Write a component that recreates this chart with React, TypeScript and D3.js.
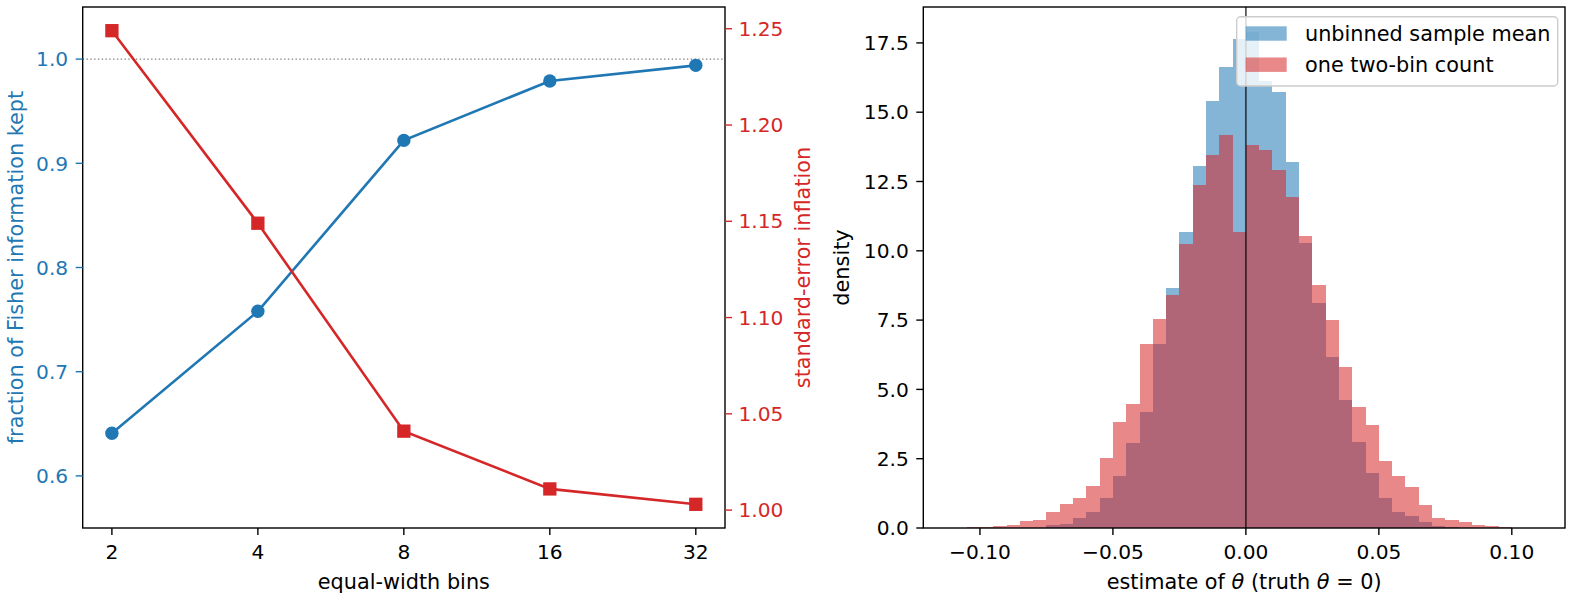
import * as d3 from "d3";
import React from "react";

// left panel: information kept vs number of equal-width bins
const binCounts = [2, 4, 8, 16, 32];
const fisherKept = [0.641, 0.758, 0.922, 0.979, 0.994];
const seInflation = [1.249, 1.149, 1.041, 1.011, 1.003];
const fisherTicks = [0.6, 0.7, 0.8, 0.9, 1.0];
const seTicks = [1.0, 1.05, 1.1, 1.15, 1.2, 1.25];

// right panel: histogram densities (bin left edges, width 0.005)
const binLeft = [
  -0.105, -0.1, -0.095, -0.09, -0.085, -0.08, -0.075, -0.07, -0.065, -0.06,
  -0.055, -0.05, -0.045, -0.04, -0.035, -0.03, -0.025, -0.02, -0.015, -0.01,
  -0.005, 0.0, 0.005, 0.01, 0.015, 0.02, 0.025, 0.03, 0.035, 0.04,
  0.045, 0.05, 0.055, 0.06, 0.065, 0.07, 0.075, 0.08, 0.085, 0.09, 0.095,
];
const binWidth = 0.005;
const unbinnedDensity = [
  0, 0, 0, 0, 0, 0, 0.1, 0.13, 0.35, 0.58,
  1.1, 1.86, 3.05, 4.17, 6.65, 8.67, 10.68, 13.06, 15.4, 16.63,
  17.63, 17.9, 16.12, 15.72, 13.2, 10.29, 8.13, 6.18, 4.63, 3.09,
  2.0, 1.1, 0.57, 0.42, 0.2, 0.06, 0.03, 0, 0, 0, 0,
];
const twoBinDensity = [
  0.02, 0.03, 0.06, 0.1, 0.25, 0.29, 0.58, 0.85, 1.07, 1.5,
  2.51, 3.81, 4.49, 6.65, 7.55, 8.42, 10.25, 12.38, 13.46, 14.18,
  10.67, 13.82, 13.64, 12.92, 11.94, 10.54, 8.78, 7.52, 5.82, 4.35,
  3.73, 2.4, 1.86, 1.47, 0.82, 0.35, 0.28, 0.2, 0.1, 0.06, 0.02,
];
const thetaTicks = [-0.1, -0.05, 0, 0.05, 0.1];
const densityTicks = [0, 2.5, 5, 7.5, 10, 12.5, 15, 17.5];
const legendLabels = ["unbinned sample mean", "one two-bin count"];

const BLUE = "#1f77b4";
const RED = "#d62728";
const FONT = "DejaVu Sans, sans-serif";
const TICK_FS = 20.2;
const LABEL_FS = 20.8;
const TICK_LEN = 7;

const minus = (s: string) => s.replace("-", "\u2212");

const App: React.FC = () => {
  const left = { x0: 82.7, x1: 725, y0: 7, y1: 528 };
  const right = { x0: 923.3, x1: 1565, y0: 7, y1: 528 };

  // left panel scales
  const lx = d3.scaleLog().base(2).domain([2 ** 0.8, 2 ** 5.2]).range([left.x0, left.x1]);
  const ly = d3.scaleLinear().domain([0.55, 1.05]).range([left.y1, left.y0]);
  const [seMin, seMax] = d3.extent(seInflation) as [number, number];
  const sePad = (seMax - seMin) * 0.05;
  const ry = d3.scaleLinear().domain([seMin - sePad, seMax + sePad]).range([left.y1, left.y0]);

  const blueLine = d3.line<number>().x((_, i) => lx(binCounts[i])).y(d => ly(d));
  const redLine = d3.line<number>().x((_, i) => lx(binCounts[i])).y(d => ry(d));

  // right panel scales
  const hx = d3.scaleLinear().domain([-0.1213, 0.12]).range([right.x0, right.x1]);
  const hy = d3.scaleLinear()
    .domain([0, (d3.max([...unbinnedDensity, ...twoBinDensity]) as number) * 1.05])
    .range([right.y1, right.y0]);

  const bars = (vals: number[], color: string) =>
    vals.map((v, i) =>
      v > 0 ? (
        <rect
          key={i}
          x={hx(binLeft[i])}
          width={hx(binLeft[i] + binWidth) - hx(binLeft[i])}
          y={hy(v)}
          height={hy(0) - hy(v)}
          fill={color}
          fillOpacity={0.55}
          shapeRendering="crispEdges"
        />
      ) : null
    );

  const sq = 13.3;

  return (
    <svg
      width={1575}
      height={600}
      style={{ position: "absolute", left: 0, top: 0, background: "white" }}
      fontFamily={FONT}
    >
      {/* ---------- left panel ---------- */}
      <line x1={left.x0} x2={left.x1} y1={ly(1.0)} y2={ly(1.0)}
        stroke="#808080" strokeWidth={1.4} strokeDasharray="1.4,2.4" />
      <path d={blueLine(fisherKept) || ""} fill="none" stroke={BLUE} strokeWidth={2.6} />
      {fisherKept.map((v, i) => (
        <circle key={i} cx={lx(binCounts[i])} cy={ly(v)} r={6.7} fill={BLUE} />
      ))}
      <path d={redLine(seInflation) || ""} fill="none" stroke={RED} strokeWidth={2.6} />
      {seInflation.map((v, i) => (
        <rect key={i} x={lx(binCounts[i]) - sq / 2} y={ry(v) - sq / 2} width={sq} height={sq} fill={RED} />
      ))}
      <rect x={left.x0} y={left.y0} width={left.x1 - left.x0} height={left.y1 - left.y0}
        fill="none" stroke="black" strokeWidth={1.4} />

      {/* x ticks */}
      {binCounts.map(b => (
        <g key={b} transform={`translate(${lx(b)},${left.y1})`}>
          <line y2={TICK_LEN} stroke="black" strokeWidth={1.4} />
          <text y={31} textAnchor="middle" fontSize={TICK_FS}>{b}</text>
        </g>
      ))}
      <text x={(left.x0 + left.x1) / 2} y={589} textAnchor="middle" fontSize={LABEL_FS}>equal-width bins</text>

      {/* left y ticks */}
      {fisherTicks.map(t => (
        <g key={t} transform={`translate(${left.x0},${ly(t)})`}>
          <line x2={-TICK_LEN} stroke={BLUE} strokeWidth={1.4} />
          <text x={-14.5} y={7.2} textAnchor="end" fontSize={TICK_FS} fill={BLUE}>{d3.format(".1f")(t)}</text>
        </g>
      ))}
      <text transform={`translate(22.7,${(left.y0 + left.y1) / 2}) rotate(-90)`} textAnchor="middle"
        fontSize={LABEL_FS} fill={BLUE}>fraction of Fisher information kept</text>

      {/* right y ticks */}
      {seTicks.map(t => (
        <g key={t} transform={`translate(${left.x1},${ry(t)})`}>
          <line x2={TICK_LEN} stroke={RED} strokeWidth={1.4} />
          <text x={13.5} y={7.2} textAnchor="start" fontSize={TICK_FS} fill={RED}>{d3.format(".2f")(t)}</text>
        </g>
      ))}
      <text transform={`translate(810,${(left.y0 + left.y1) / 2}) rotate(-90)`} textAnchor="middle"
        fontSize={LABEL_FS} fill={RED}>standard-error inflation</text>

      {/* ---------- right panel ---------- */}
      <g>{bars(unbinnedDensity, BLUE)}</g>
      <g>{bars(twoBinDensity, RED)}</g>
      <line x1={hx(0)} x2={hx(0)} y1={right.y0} y2={right.y1} stroke="black" strokeOpacity={0.65} strokeWidth={1.8} />
      <rect x={right.x0} y={right.y0} width={right.x1 - right.x0} height={right.y1 - right.y0}
        fill="none" stroke="black" strokeWidth={1.4} />

      {thetaTicks.map(t => (
        <g key={t} transform={`translate(${hx(t)},${right.y1})`}>
          <line y2={TICK_LEN} stroke="black" strokeWidth={1.4} />
          <text y={31} textAnchor="middle" fontSize={TICK_FS}>{minus(d3.format(".2f")(t))}</text>
        </g>
      ))}
      <text x={(right.x0 + right.x1) / 2} y={589} textAnchor="middle" fontSize={LABEL_FS}>
        estimate of <tspan fontStyle="italic">θ</tspan> (truth <tspan fontStyle="italic">θ</tspan> = 0)
      </text>

      {densityTicks.map(t => (
        <g key={t} transform={`translate(${right.x0},${hy(t)})`}>
          <line x2={-TICK_LEN} stroke="black" strokeWidth={1.4} />
          <text x={-14.5} y={7.2} textAnchor="end" fontSize={TICK_FS}>{d3.format(".1f")(t)}</text>
        </g>
      ))}
      <text transform={`translate(849,${(right.y0 + right.y1) / 2}) rotate(-90)`} textAnchor="middle"
        fontSize={LABEL_FS}>density</text>

      {/* legend */}
      <g>
        <rect x={1236.7} y={16.7} width={321} height={69.3} rx={4} fill="white" fillOpacity={0.8}
          stroke="#cccccc" strokeWidth={1.4} />
        {legendLabels.map((lab, i) => (
          <g key={lab} transform={`translate(1245.7,${33.5 + i * 31.2})`}>
            <rect x={0} y={-7.2} width={41} height={14.4} fill={i === 0 ? BLUE : RED} fillOpacity={0.55} />
            <text x={59.3} y={7.3} fontSize={LABEL_FS}>{lab}</text>
          </g>
        ))}
      </g>
    </svg>
  );
};

export default App;
